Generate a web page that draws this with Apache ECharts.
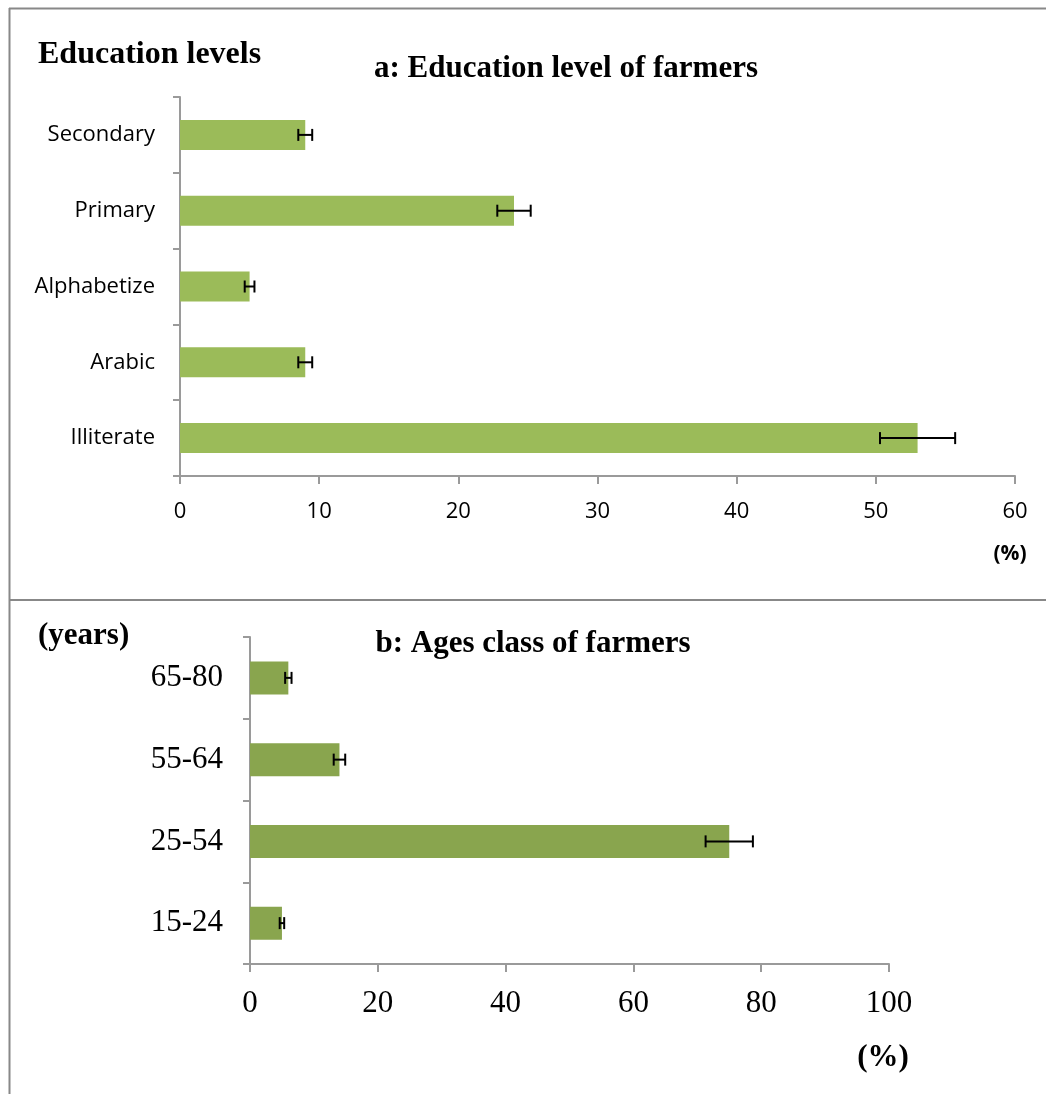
<!DOCTYPE html>
<html>
<head>
<meta charset="utf-8">
<script src="https://cdn.jsdelivr.net/npm/echarts@6/dist/echarts.min.js"></script>
<style>
html,body{margin:0;padding:0;background:#fff;}
#c{width:1046px;height:1094px;}
</style>
</head>
<body>
<div id="c"></div>
<script>
// Chart a: education level
const eduCategories = ['Illiterate', 'Arabic', 'Alphabetize', 'Primary', 'Secondary'];
const eduValues = [53, 9, 5, 24, 9];
const eduErrors = [2.7, 0.5, 0.35, 1.2, 0.5];
const eduTicks = [0, 10, 20, 30, 40, 50, 60];

// Chart b: age classes
const ageCategories = ['15-24', '25-54', '55-64', '65-80'];
const ageValues = [5, 75, 14, 6];
const ageErrors = [0.35, 3.7, 0.9, 0.5];
const ageTicks = [0, 20, 40, 60, 80, 100];

const serif = '"Liberation Serif", "Times New Roman", serif';
const sans = '"Open Sans", Lato, sans-serif';
const axisGray = '#9a9a9a';
const borderGray = '#888888';

function errData(vals, errs) {
  return vals.map((v, i) => [i, v - errs[i], v + errs[i]]);
}
function errRender(capHalf) {
  return function (params, api) {
    const c = api.value(0);
    const lo = api.coord([api.value(1), c]);
    const hi = api.coord([api.value(2), c]);
    const style = { stroke: '#000', lineWidth: 2 };
    return {
      type: 'group',
      children: [
        { type: 'line', shape: { x1: lo[0], y1: lo[1], x2: hi[0], y2: hi[1] }, style },
        { type: 'line', shape: { x1: lo[0], y1: lo[1] - capHalf, x2: lo[0], y2: lo[1] + capHalf }, style },
        { type: 'line', shape: { x1: hi[0], y1: hi[1] - capHalf, x2: hi[0], y2: hi[1] + capHalf }, style }
      ]
    };
  };
}

const titleStyle = { fontFamily: serif, fontSize: 31, fontWeight: 'bold', color: '#000' };

const chart = echarts.init(document.getElementById('c'), null, { renderer: 'canvas' });
chart.setOption({
  animation: false,
  backgroundColor: '#fff',
  title: [
    { text: 'Education levels', left: 38, top: 39, padding: 0,
      textStyle: Object.assign({}, titleStyle, { fontSize: 32 }) },
    { text: 'a: Education level of farmers', left: 566, top: 53, padding: 0, textAlign: 'center', textStyle: titleStyle },
    { text: '(%)', left: 1010, top: 544, padding: 0, textAlign: 'center',
      textStyle: { fontFamily: sans, fontSize: 21, fontWeight: 'bold', color: '#000' } },
    { text: '(years)', left: 38, top: 620, padding: 0, textStyle: titleStyle },
    { text: 'b: Ages class of farmers', left: 533, top: 628, padding: 0, textAlign: 'center', textStyle: titleStyle },
    { text: '(%)', left: 883, top: 1042, padding: 0, textAlign: 'center', textStyle: titleStyle }
  ],
  graphic: [
    { type: 'line', shape: { x1: 9, y1: 8.5, x2: 1046, y2: 8.5 }, style: { stroke: borderGray, lineWidth: 2 } },
    { type: 'line', shape: { x1: 9.5, y1: 8, x2: 9.5, y2: 1094 }, style: { stroke: borderGray, lineWidth: 2 } },
    { type: 'line', shape: { x1: 9, y1: 600, x2: 1046, y2: 600 }, style: { stroke: borderGray, lineWidth: 2 } }
  ],
  grid: [
    { left: 180, top: 97, width: 835, height: 379 },
    { left: 250, top: 637, width: 639, height: 327 }
  ],
  xAxis: [
    { type: 'value', gridIndex: 0, min: 0, max: 60, interval: 10,
      axisLine: { show: true, lineStyle: { color: axisGray, width: 2 } },
      axisTick: { show: true, length: 8, lineStyle: { color: axisGray, width: 2 } },
      splitLine: { show: false },
      axisLabel: { margin: 25, fontFamily: sans, fontSize: 22, color: '#000',
        formatter: v => eduTicks.includes(v) ? String(v) : '' } },
    { type: 'value', gridIndex: 1, min: 0, max: 100, interval: 20,
      axisLine: { show: true, lineStyle: { color: axisGray, width: 2 } },
      axisTick: { show: true, length: 8, lineStyle: { color: axisGray, width: 2 } },
      splitLine: { show: false },
      axisLabel: { margin: 24, fontFamily: serif, fontSize: 31, color: '#000',
        formatter: v => ageTicks.includes(v) ? String(v) : '' } }
  ],
  yAxis: [
    { type: 'category', gridIndex: 0, data: eduCategories,
      axisLine: { show: true, lineStyle: { color: axisGray, width: 2 } },
      axisTick: { show: true, length: 7, lineStyle: { color: axisGray, width: 2 } },
      axisLabel: { margin: 25, fontFamily: sans, fontSize: 22, color: '#000' } },
    { type: 'category', gridIndex: 1, data: ageCategories,
      axisLine: { show: true, lineStyle: { color: axisGray, width: 2 } },
      axisTick: { show: true, length: 7, lineStyle: { color: axisGray, width: 2 } },
      axisLabel: { margin: 27, fontFamily: serif, fontSize: 31, color: '#000' } }
  ],
  series: [
    { type: 'bar', xAxisIndex: 0, yAxisIndex: 0, data: eduValues, barWidth: 30,
      itemStyle: { color: '#9BBB59' } },
    { type: 'custom', xAxisIndex: 0, yAxisIndex: 0, data: errData(eduValues, eduErrors),
      renderItem: errRender(6), encode: { x: [1, 2], y: 0 }, z: 10 },
    { type: 'bar', xAxisIndex: 1, yAxisIndex: 1, data: ageValues, barWidth: 33,
      itemStyle: { color: '#89A54E' } },
    { type: 'custom', xAxisIndex: 1, yAxisIndex: 1, data: errData(ageValues, ageErrors),
      renderItem: errRender(6), encode: { x: [1, 2], y: 0 }, z: 10 }
  ]
});
</script>
</body>
</html>
